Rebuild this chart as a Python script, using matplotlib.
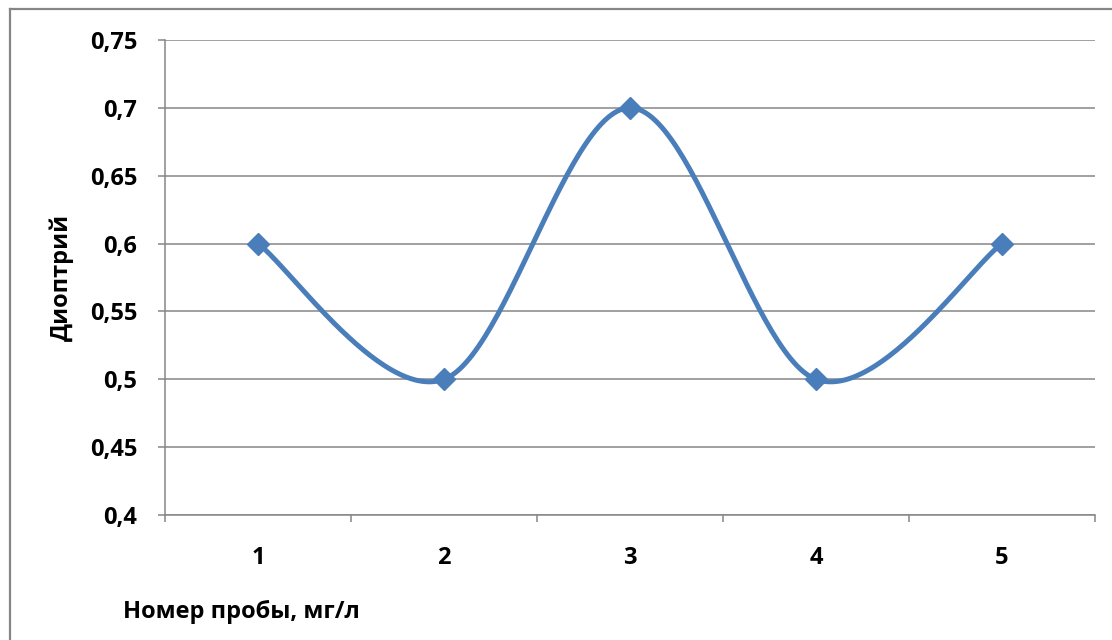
import numpy as np
import matplotlib.pyplot as plt
from matplotlib.lines import Line2D

plt.rcParams['font.family'] = ['Open Sans', 'DejaVu Sans']

# data
samples = [1, 2, 3, 4, 5]
values = [0.6, 0.5, 0.7, 0.5, 0.6]
y_ticks = [0.4, 0.45, 0.5, 0.55, 0.6, 0.65, 0.7, 0.75]
y_labels = ['0,4', '0,45', '0,5', '0,55', '0,6', '0,65', '0,7', '0,75']

line_color = '#4A7EBB'
grid_color = '#868686'


# excel-like smoothing: cubic bezier through points, control points at 1/6 of neighbour difference
def smooth(xs, ys, n=60):
    p = np.column_stack([xs, ys]).astype(float)
    out = []
    for i in range(len(p) - 1):
        p0 = p[i - 1] if i > 0 else p[i]
        p3 = p[i + 2] if i + 2 < len(p) else p[i + 1]
        c1 = p[i] + (p[i + 1] - p0) / 6
        c2 = p[i + 1] - (p3 - p[i]) / 6
        t = np.linspace(0, 1, n)[:, None]
        seg = ((1 - t) ** 3 * p[i] + 3 * (1 - t) ** 2 * t * c1
               + 3 * (1 - t) * t ** 2 * c2 + t ** 3 * p[i + 1])
        out.append(seg if i == 0 else seg[1:])
    out = np.vstack(out)
    return out[:, 0], out[:, 1]


fig = plt.figure(figsize=(11.12, 6.4), dpi=100)
ax = fig.add_axes([165 / 1112, 1 - 515 / 640, 930 / 1112, 475 / 640])

sx, sy = smooth(samples, values)
ax.plot(sx, sy, color=line_color, lw=3.6, solid_capstyle='round', zorder=3)
ax.plot(samples, values, ls='none', marker='D', ms=11, color=line_color, zorder=4)

ax.set_xlim(0.5, 5.5)
ax.set_ylim(0.4, 0.75)
ax.set_yticks(y_ticks)
ax.set_yticklabels(y_labels)
ax.set_xticks(samples)
ax.set_xticklabels([str(s) for s in samples])
ax.set_xticks(np.arange(0.5, 6, 1), minor=True)

ax.grid(axis='y', color=grid_color, lw=1.1)
ax.set_axisbelow(True)
for side in ['top', 'right']:
    ax.spines[side].set_visible(False)
for side in ['left', 'bottom']:
    ax.spines[side].set_color(grid_color)
    ax.spines[side].set_linewidth(1.1)

ax.tick_params(axis='y', length=5, color=grid_color, width=1.1, pad=15,
               labelsize=17)
ax.tick_params(axis='x', which='major', length=0, pad=22, labelsize=17)
ax.tick_params(axis='x', which='minor', length=5, color=grid_color, width=1.1)
for lab in ax.get_xticklabels() + ax.get_yticklabels():
    lab.set_fontweight('bold')

fig.text(62 / 1112, 1 - 277 / 640, 'Диоптрий', rotation=90, ha='center',
         va='center', fontsize=17, fontweight='bold')
fig.text(123 / 1112, 1 - 612 / 640, 'Номер пробы, мг/л', ha='left',
         va='center', fontsize=17, fontweight='bold')

# chart border (only left and top visible, the rest is cropped)
bx, by = 9.5 / 1112, 1 - 8.5 / 640
fig.lines.append(Line2D([bx, bx], [0, by], transform=fig.transFigure,
                        color=grid_color, lw=1.6))
fig.lines.append(Line2D([bx, 1], [by, by], transform=fig.transFigure,
                        color=grid_color, lw=1.6))

fig.savefig('out.png', dpi=100)
